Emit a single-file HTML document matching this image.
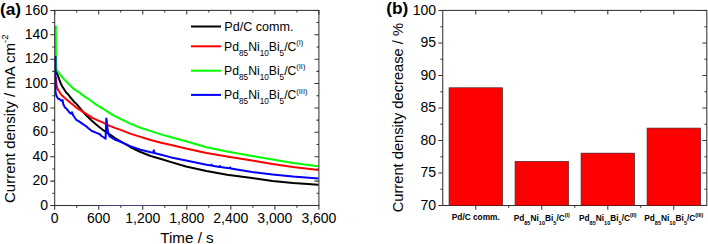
<!DOCTYPE html>
<html><head><meta charset="utf-8"><style>
html,body{margin:0;padding:0;background:#fff;}
body{width:708px;height:244px;overflow:hidden;}
svg{display:block;font-family:"Liberation Sans",sans-serif;}
</style></head><body>
<svg width="708" height="244" viewBox="0 0 708 244">
<path d="M50.30,205.50H54.7M314.50,205.50H318.9M52.30,193.31H54.7M316.50,193.31H318.9M50.30,181.11H54.7M314.50,181.11H318.9M52.30,168.92H54.7M316.50,168.92H318.9M50.30,156.72H54.7M314.50,156.72H318.9M52.30,144.53H54.7M316.50,144.53H318.9M50.30,132.34H54.7M314.50,132.34H318.9M52.30,120.14H54.7M316.50,120.14H318.9M50.30,107.95H54.7M314.50,107.95H318.9M52.30,95.76H54.7M316.50,95.76H318.9M50.30,83.56H54.7M314.50,83.56H318.9M52.30,71.37H54.7M316.50,71.37H318.9M50.30,59.18H54.7M314.50,59.18H318.9M52.30,46.98H54.7M316.50,46.98H318.9M50.30,34.79H54.7M314.50,34.79H318.9M52.30,22.59H54.7M316.50,22.59H318.9M50.30,10.40H54.7M314.50,10.40H318.9M54.70,205.5V209.70M54.70,10.4V14.60M76.72,205.5V207.70M76.72,10.4V12.60M98.73,205.5V209.70M98.73,10.4V14.60M120.75,205.5V207.70M120.75,10.4V12.60M142.77,205.5V209.70M142.77,10.4V14.60M164.78,205.5V207.70M164.78,10.4V12.60M186.80,205.5V209.70M186.80,10.4V14.60M208.82,205.5V207.70M208.82,10.4V12.60M230.83,205.5V209.70M230.83,10.4V14.60M252.85,205.5V207.70M252.85,10.4V12.60M274.87,205.5V209.70M274.87,10.4V14.60M296.88,205.5V207.70M296.88,10.4V12.60M318.90,205.5V209.70M318.90,10.4V14.60" stroke="#333" stroke-width="1.05" fill="none"/>
<text x="48.1" y="209.60" text-anchor="end" font-size="14">0</text>
<text x="48.1" y="185.21" text-anchor="end" font-size="14">20</text>
<text x="48.1" y="160.82" text-anchor="end" font-size="14">40</text>
<text x="48.1" y="136.44" text-anchor="end" font-size="14">60</text>
<text x="48.1" y="112.05" text-anchor="end" font-size="14">80</text>
<text x="48.1" y="87.66" text-anchor="end" font-size="14">100</text>
<text x="48.1" y="63.28" text-anchor="end" font-size="14">120</text>
<text x="48.1" y="38.89" text-anchor="end" font-size="14">140</text>
<text x="48.1" y="14.50" text-anchor="end" font-size="14">160</text>
<text x="54.70" y="223" text-anchor="middle" font-size="14">0</text>
<text x="98.73" y="223" text-anchor="middle" font-size="14">600</text>
<text x="142.77" y="223" text-anchor="middle" font-size="14">1,200</text>
<text x="186.80" y="223" text-anchor="middle" font-size="14">1,800</text>
<text x="230.83" y="223" text-anchor="middle" font-size="14">2,400</text>
<text x="274.87" y="223" text-anchor="middle" font-size="14">3,000</text>
<text x="318.90" y="223" text-anchor="middle" font-size="14">3,600</text>
<text x="187" y="243" text-anchor="middle" font-size="15.2">Time / s</text>
<text transform="translate(14.9,118.75) rotate(-90)" text-anchor="middle" font-size="15">Current density / mA cm<tspan dy="-6.5" font-size="9.5">-2</tspan></text>
<text x="-0.1" y="14.5" font-size="17.3" font-weight="bold">(a)</text>
<polyline points="55.9,68 56.7,71.9 57.2,74 58.3,76.7 59.3,79.6 60.4,82.6 62,86 64.1,89.3 66,92.2 68.3,94.6 70.1,97 72.5,99.9 74.2,101.9 76,103.4 79,106.9 81.9,110.5 84.8,113.8 88,117 91.9,120.8 95.9,124.3 99.8,127.5 104,130.7 110,134.7 115,138 120,141 130.2,147 140.5,152 150.7,156 161,159 171.2,162.1 186,166.5 206.5,171 227,174.7 252,178 272.5,181 293,183 318.5,184.7" fill="none" stroke="#000" stroke-width="2" stroke-linejoin="round"/>
<polyline points="55.9,77 56.3,83 57,87.5 58,89.8 59.3,91.8 60.6,93.8 61.8,95.2 64.3,97.4 66,99.1 68,100.8 70.1,102.4 73,104.8 76.2,107.6 79.9,109.9 83.9,112.4 87.8,114.8 92.9,118.2 97.8,120.3 103.1,122.7 109.7,125.9 115.5,128.1 120,129.6 130.2,133.6 140.5,136.9 150.7,140 161,142.8 171.2,145.1 186,148.4 206.5,153 227,156.6 252,160.4 272.5,164 293,167 318.5,170.1" fill="none" stroke="#ff0000" stroke-width="2" stroke-linejoin="round"/>
<polyline points="55.8,25.7 55.9,60 56.2,68.5 57.2,70.8 59,73 61.3,76 63.5,78.6 65.4,80.7 68.4,83.6 72,87.3 74.2,89.2 76.7,90.9 80,93 84.7,96.6 90,100 95,103.8 100,106.8 105.2,110.2 113.4,115.4 120,118.6 130.2,123.6 140.5,127.7 150.7,131.1 161,134.4 171.2,137.3 186,141.3 206.5,147.2 227,151.5 252,156 272.5,159.5 293,163 318.5,166.2" fill="none" stroke="#00ff00" stroke-width="2" stroke-linejoin="round"/>
<polyline points="55.5,56 55.5,92 56.5,96 58,98.5 60,99.5 61.8,101 62.6,100 63.2,104 65,107.5 66.6,108.8 69.8,112.9 71,113.6 72,112.2 73.1,115.3 76.2,119.8 79,121.4 81.9,123.4 86.8,126.8 88,128 91.9,131 95.9,132.6 99.8,134.2 101.5,136 103.9,137.5 105.6,138.8 106.3,118.5 106.8,121 107.4,128 108.2,133 109.7,136.5 114.6,139.5 120,141.5 130.2,146.1 140.5,149.8 150.7,152.3 153.3,152.8 153.8,150.3 154.4,153 161,154.8 171.2,157.4 186,160.6 206.5,164.8 211.3,165.6 211.7,164.6 212.2,165.7 219.6,167 220,166 220.5,167.1 227,167.9 229.8,168.3 230.2,167.4 230.7,168.4 252,171.9 272.5,174.4 293,176.5 318.5,178.5" fill="none" stroke="#0000ff" stroke-width="2" stroke-linejoin="round"/>
<rect x="54.7" y="10.4" width="264.20" height="195.10" fill="none" stroke="#333" stroke-width="1.05"/>
<defs><linearGradient id="tint" gradientUnits="userSpaceOnUse" x1="92" y1="0" x2="172" y2="0"><stop offset="0" stop-color="#333"/><stop offset="0.22" stop-color="#45457e"/><stop offset="0.72" stop-color="#45457e"/><stop offset="1" stop-color="#333"/></linearGradient></defs>
<path d="M92,205.5H172" stroke="url(#tint)" stroke-width="1.2"/>
<path d="M191,26.5H221" stroke="#000" stroke-width="2"/>
<text x="224.3" y="30.8" font-size="12.6">Pd/C comm.</text>
<path d="M191,46.3H221" stroke="#ff0000" stroke-width="2"/>
<text x="224.1" y="50.599999999999994" font-size="12.2">Pd<tspan font-size="8.2" dy="5.2">85</tspan><tspan dy="-5.2">Ni</tspan><tspan font-size="8.2" dy="5.2">10</tspan><tspan dy="-5.2">Bi</tspan><tspan font-size="8.2" dy="5.2">5</tspan><tspan dy="-5.2">/C</tspan><tspan font-size="7.4" dy="-5.6">(I)</tspan></text>
<path d="M191,70.7H221" stroke="#00ff00" stroke-width="2"/>
<text x="224.1" y="75.0" font-size="12.2">Pd<tspan font-size="8.2" dy="5.2">85</tspan><tspan dy="-5.2">Ni</tspan><tspan font-size="8.2" dy="5.2">10</tspan><tspan dy="-5.2">Bi</tspan><tspan font-size="8.2" dy="5.2">5</tspan><tspan dy="-5.2">/C</tspan><tspan font-size="7.4" dy="-5.6">(II)</tspan></text>
<path d="M191,94.9H221" stroke="#0000ff" stroke-width="2"/>
<text x="224.1" y="99.2" font-size="12.2">Pd<tspan font-size="8.2" dy="5.2">85</tspan><tspan dy="-5.2">Ni</tspan><tspan font-size="8.2" dy="5.2">10</tspan><tspan dy="-5.2">Bi</tspan><tspan font-size="8.2" dy="5.2">5</tspan><tspan dy="-5.2">/C</tspan><tspan font-size="7.4" dy="-5.6">(III)</tspan></text>
<text x="386.3" y="13.95" font-size="17.3" font-weight="bold">(b)</text>
<rect x="449.06" y="87.79" width="53.4" height="117.71" fill="#ff0000" stroke="#4a2020" stroke-width="0.7"/>
<rect x="515.07" y="161.47" width="53.4" height="44.03" fill="#ff0000" stroke="#4a2020" stroke-width="0.7"/>
<rect x="581.08" y="153.15" width="53.4" height="52.35" fill="#ff0000" stroke="#4a2020" stroke-width="0.7"/>
<rect x="647.09" y="128.11" width="53.4" height="77.39" fill="#ff0000" stroke="#4a2020" stroke-width="0.7"/>
<rect x="442.75" y="10.4" width="264.05" height="195.10" fill="none" stroke="#333" stroke-width="1.05"/>
<path d="M449.06,205.5H502.46" stroke="#7a1414" stroke-width="1.05"/>
<path d="M515.07,205.5H568.47" stroke="#7a1414" stroke-width="1.05"/>
<path d="M581.08,205.5H634.48" stroke="#7a1414" stroke-width="1.05"/>
<path d="M647.09,205.5H700.49" stroke="#7a1414" stroke-width="1.05"/>
<path d="M438.35,205.50H442.75M702.40,205.50H706.8M440.35,189.24H442.75M704.40,189.24H706.8M438.35,172.98H442.75M702.40,172.98H706.8M440.35,156.72H442.75M704.40,156.72H706.8M438.35,140.47H442.75M702.40,140.47H706.8M440.35,124.21H442.75M704.40,124.21H706.8M438.35,107.95H442.75M702.40,107.95H706.8M440.35,91.69H442.75M704.40,91.69H706.8M438.35,75.43H442.75M702.40,75.43H706.8M440.35,59.18H442.75M704.40,59.18H706.8M438.35,42.92H442.75M702.40,42.92H706.8M440.35,26.66H442.75M704.40,26.66H706.8M438.35,10.40H442.75M702.40,10.40H706.8M475.76,205.5V209.70M475.76,10.4V14.60M508.76,205.5V207.70M508.76,10.4V12.60M541.77,205.5V209.70M541.77,10.4V14.60M574.77,205.5V207.70M574.77,10.4V12.60M607.78,205.5V209.70M607.78,10.4V14.60M640.79,205.5V207.70M640.79,10.4V12.60M673.79,205.5V209.70M673.79,10.4V14.60" stroke="#333" stroke-width="1.05" fill="none"/>
<text x="436.1" y="209.60" text-anchor="end" font-size="14">70</text>
<text x="436.1" y="177.08" text-anchor="end" font-size="14">75</text>
<text x="436.1" y="144.57" text-anchor="end" font-size="14">80</text>
<text x="436.1" y="112.05" text-anchor="end" font-size="14">85</text>
<text x="436.1" y="79.53" text-anchor="end" font-size="14">90</text>
<text x="436.1" y="47.02" text-anchor="end" font-size="14">95</text>
<text x="436.1" y="14.50" text-anchor="end" font-size="14">100</text>
<text transform="translate(403.2,117.6) rotate(-90)" text-anchor="middle" font-size="14.7">Current density decrease / %</text>
<text x="475.76" y="220" text-anchor="middle" font-size="8.3" font-weight="bold">Pd/C comm.</text>
<text x="541.77" y="221.3" text-anchor="middle" font-size="8.3" font-weight="bold">Pd<tspan font-size="5.6" dy="3.6">85</tspan><tspan dy="-3.6">Ni</tspan><tspan font-size="5.6" dy="3.6">10</tspan><tspan dy="-3.6">Bi</tspan><tspan font-size="5.6" dy="3.6">5</tspan><tspan dy="-3.6">/C</tspan><tspan font-size="5.4" dy="-4.2">(I)</tspan></text>
<text x="607.78" y="221.3" text-anchor="middle" font-size="8.3" font-weight="bold">Pd<tspan font-size="5.6" dy="3.6">85</tspan><tspan dy="-3.6">Ni</tspan><tspan font-size="5.6" dy="3.6">10</tspan><tspan dy="-3.6">Bi</tspan><tspan font-size="5.6" dy="3.6">5</tspan><tspan dy="-3.6">/C</tspan><tspan font-size="5.4" dy="-4.2">(II)</tspan></text>
<text x="673.79" y="221.3" text-anchor="middle" font-size="8.3" font-weight="bold">Pd<tspan font-size="5.6" dy="3.6">85</tspan><tspan dy="-3.6">Ni</tspan><tspan font-size="5.6" dy="3.6">10</tspan><tspan dy="-3.6">Bi</tspan><tspan font-size="5.6" dy="3.6">5</tspan><tspan dy="-3.6">/C</tspan><tspan font-size="5.4" dy="-4.2">(III)</tspan></text>
</svg>
</body></html>
